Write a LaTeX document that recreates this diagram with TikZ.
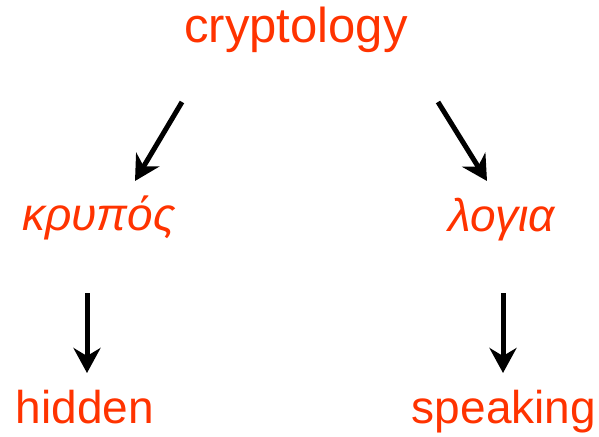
\documentclass[tikz,border=0pt]{standalone}
\usepackage{fontspec}
\setmainfont{Liberation Sans}
\usetikzlibrary{arrows.meta}
\definecolor{wordred}{HTML}{FF3300}
\tikzset{
  word/.style={text=wordred, inner sep=0pt, anchor=base},
  bigword/.style={word, font=\fontsize{49}{55}\selectfont},
  midword/.style={word, font=\fontsize{46}{52}\selectfont\itshape},
  lowword/.style={word, font=\fontsize{46}{52}\selectfont},
  arr/.style={line width=5pt, -{Stealth[length=25pt, width=27pt, inset=8pt]}}
}
\begin{document}
\begin{tikzpicture}[x=1pt, y=-1pt]
\useasboundingbox (0,0) rectangle (599,436);
\node[bigword] (crypt) at (296,43) {cryptology};
\node[midword] (krypt) at (99,230) {κρυπός};
\node[midword] (logia) at (502,231) {λογια};
\node[lowword] (hidden) at (85,423) {hidden};
\node[lowword] (speak) at (504,423) {speaking};
\coordinate (a1s) at (182,102);
\coordinate (a1e) at (135,181);
\coordinate (a2s) at (438,102);
\coordinate (a2e) at (487,181);
\coordinate (a3s) at (87,293);
\coordinate (a3e) at (87,373);
\coordinate (a4s) at (503,293);
\coordinate (a4e) at (503,373);
\draw[arr] (a1s) -- (a1e);
\draw[arr] (a2s) -- (a2e);
\draw[arr] (a3s) -- (a3e);
\draw[arr] (a4s) -- (a4e);
\end{tikzpicture}
\end{document}
